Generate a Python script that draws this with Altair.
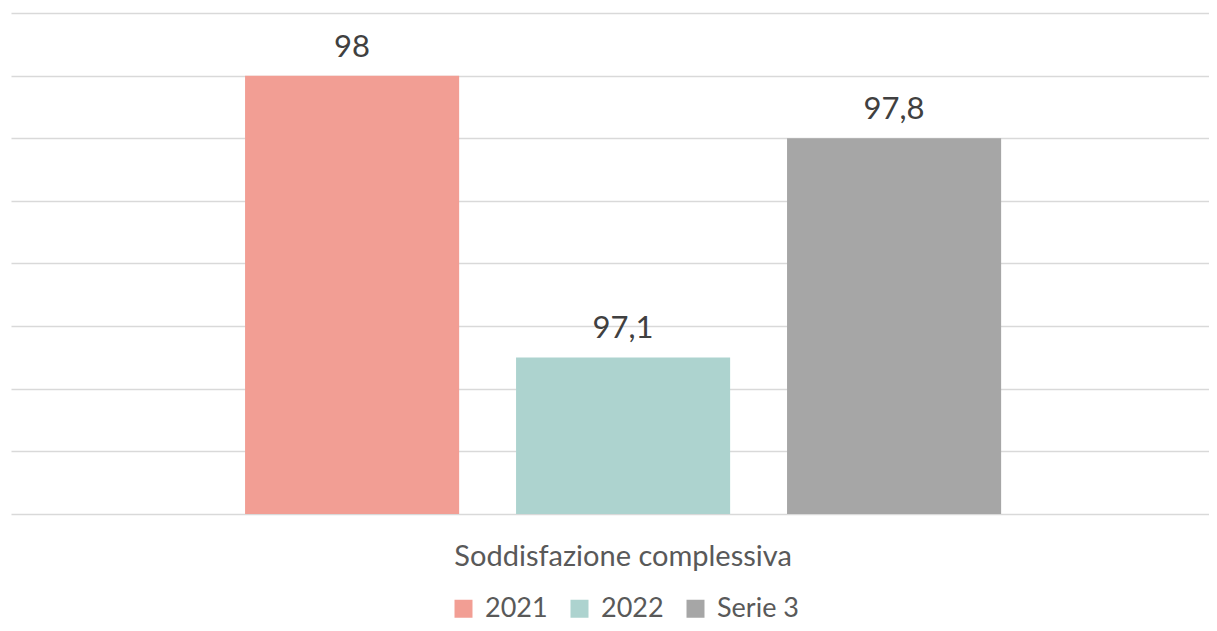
import altair as alt
import pandas as pd

category = ["Soddisfazione complessiva"]
series = ["2021", "2022", "Serie 3"]
values = [98.0, 97.1, 97.8]
colors = ["#F29E94", "#ADD3CF", "#A6A6A6"]
y_min, y_max = 96.6, 98.2
grid_values = [96.6, 96.8, 97.0, 97.2, 97.4, 97.6, 97.8, 98.0, 98.2]

def fmt(v):
    s = ("%g" % v)
    return s.replace(".", ",")

df = pd.DataFrame({
    "cat": category * len(series),
    "serie": series,
    "val": values,
    "label": [fmt(v) for v in values],
    "base": [y_min] * len(series),
})

FONT = "Lato"

x_axis = alt.Axis(labelAngle=0, labelFontSize=29, labelColor="#595959",
                  labelFont=FONT, labelPadding=28, labelLimit=0, ticks=False,
                  domain=False, grid=False)
x_scale = alt.Scale(paddingInner=0, paddingOuter=0.2368, align=0.534)
xo_scale = alt.Scale(paddingInner=0.21, paddingOuter=0.105)
y_scale = alt.Scale(domain=[y_min, y_max], nice=False, zero=False)
y_axis = alt.Axis(values=grid_values, labels=False, ticks=False,
                  domain=False, grid=True, gridColor="#D9D9D9", gridWidth=1.5)

bars = alt.Chart(df).mark_bar().encode(
    x=alt.X("cat:N", title=None, scale=x_scale, axis=x_axis),
    xOffset=alt.XOffset("serie:N", sort=series, scale=xo_scale),
    y=alt.Y("val:Q", scale=y_scale, title=None, axis=y_axis),
    y2=alt.Y2("base:Q"),
    color=alt.Color("serie:N", sort=series,
                    scale=alt.Scale(domain=series, range=colors),
                    legend=alt.Legend(title=None, orient="none", direction="horizontal",
                                      legendX=439, legendY=582,
                                      symbolType="square", symbolSize=324,
                                      symbolStrokeWidth=0, symbolOpacity=1,
                                      labelFontSize=27, labelColor="#595959",
                                      labelFont=FONT, labelOffset=8,
                                      columnPadding=18, padding=0)),
)

texts = alt.Chart(df).mark_text(
    baseline="alphabetic", dy=-19, fontSize=31, color="#404040", font=FONT
).encode(
    x=alt.X("cat:N", title=None, scale=x_scale, axis=x_axis),
    xOffset=alt.XOffset("serie:N", sort=series, scale=xo_scale),
    y=alt.Y("val:Q", scale=y_scale, title=None, axis=y_axis),
    text="label:N",
)

chart = alt.layer(bars, texts).properties(
    width=1198, height=501,
    background="white",
    padding={"left": 3, "top": 5, "right": 0, "bottom": 109},
    autosize=alt.AutoSizeParams(type="none"),
).configure_view(stroke="transparent", strokeWidth=0).configure_axis(
    domain=False, ticks=False
)

chart.save("out.html", embed_options={"renderer": "svg", "actions": False})
